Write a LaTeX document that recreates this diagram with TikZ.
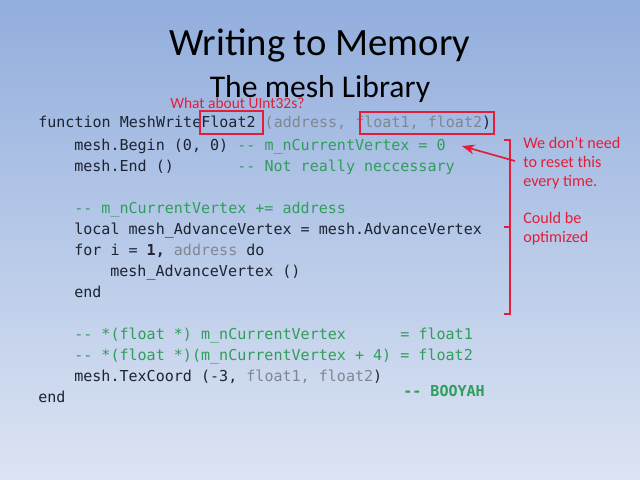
\documentclass[tikz,border=0pt]{standalone}
\usepackage{fontspec}
\setmainfont{Carlito}
\setmonofont{DejaVu Sans Mono}
\usetikzlibrary{arrows.meta}

\definecolor{bgtop}{RGB}{146,174,221}
\definecolor{bgbot}{RGB}{220,228,243}
\definecolor{codeink}{RGB}{28,35,51}
\definecolor{cmt}{RGB}{47,158,90}
\definecolor{arg}{RGB}{128,134,146}
\definecolor{note}{RGB}{226,30,58}

\tikzset{
  code/.style={anchor=base west, inner sep=0pt, font=\ttfamily\fontsize{10.7}{12}\selectfont, text=codeink},
  remark/.style={anchor=base west, inner sep=0pt, font=\fontsize{11.5}{13.5}\selectfont, text=note, align=left},
  hilite/.style={draw=note, line width=1.2pt},
}
\newcommand{\cm}[1]{\textcolor{cmt}{#1}}
\newcommand{\ag}[1]{\textcolor{arg}{#1}}

\begin{document}
\begin{tikzpicture}[x=0.025cm,y=-0.025cm]
\shade[top color=bgtop, bottom color=bgbot] (0,0) rectangle (640,480);
\useasboundingbox (0,0) rectangle (640,480);

% titles
\node[font=\fontsize{27.5}{32}\selectfont] (title) at (320,45) {Writing to Memory};
\node[font=\fontsize{22.5}{26}\selectfont] (subtitle) at (320,89) {The mesh Library};
\node[remark, font=\fontsize{11}{13}\selectfont] (uint) at (170,108) {What about UInt32s?};

% code lines
\node[code] (l1) at (38,128) {function MeshWriteFloat2 \ag{(address, float1, float2})};
\node[code] (l2) at (74,150) {mesh.Begin (0, 0) \cm{-- m\_nCurrentVertex = 0}};
\node[code] (l3) at (74,171) {mesh.End ()~~~~~~~\cm{-- Not really neccessary}};
\node[code] (l5) at (74,213) {\cm{-- m\_nCurrentVertex += address}};
\node[code] (l6) at (74,234) {local mesh\_AdvanceVertex = mesh.AdvanceVertex};
\node[code] (l7) at (74,255) {for i = \textbf{1,} \ag{address} do};
\node[code] (l8) at (110,276) {mesh\_AdvanceVertex ()};
\node[code] (l9) at (74,297) {end};
\node[code] (l11) at (74,339) {\cm{-- *(float *) m\_nCurrentVertex~~~~~~= float1}};
\node[code] (l12) at (74,360) {\cm{-- *(float *)(m\_nCurrentVertex + 4) = float2}};
\node[code] (l13) at (74,381) {mesh.TexCoord (-3, \ag{float1, float2})};
\node[code, font=\ttfamily\bfseries\fontsize{10.7}{12}\selectfont, text=cmt] (booyah) at (403,396) {-- BOOYAH};
\node[code] (l14) at (38,402) {end};

% highlight boxes
\draw[hilite] (200,111) rectangle (263,134);
\draw[hilite] (360,112) rectangle (494,134);

% bracket and notes
\draw[note, line width=1.2pt] (504,140) -- (510,140) -- (510,314) -- (504,314);
\draw[note, line width=1.2pt] (510,227) -- (504,227);
\coordinate (brk) at (515,161);
\draw[note, line width=1.2pt, -{Stealth[length=9pt,width=7pt]}] (brk) -- ([xshift=16*0.025cm]l2.east);

\node[remark] (reset) at (523,186) {We don’t need\\to reset this\\every time.};
\node[remark] (optim) at (523,242) {Could be\\optimized};
\end{tikzpicture}
\end{document}
